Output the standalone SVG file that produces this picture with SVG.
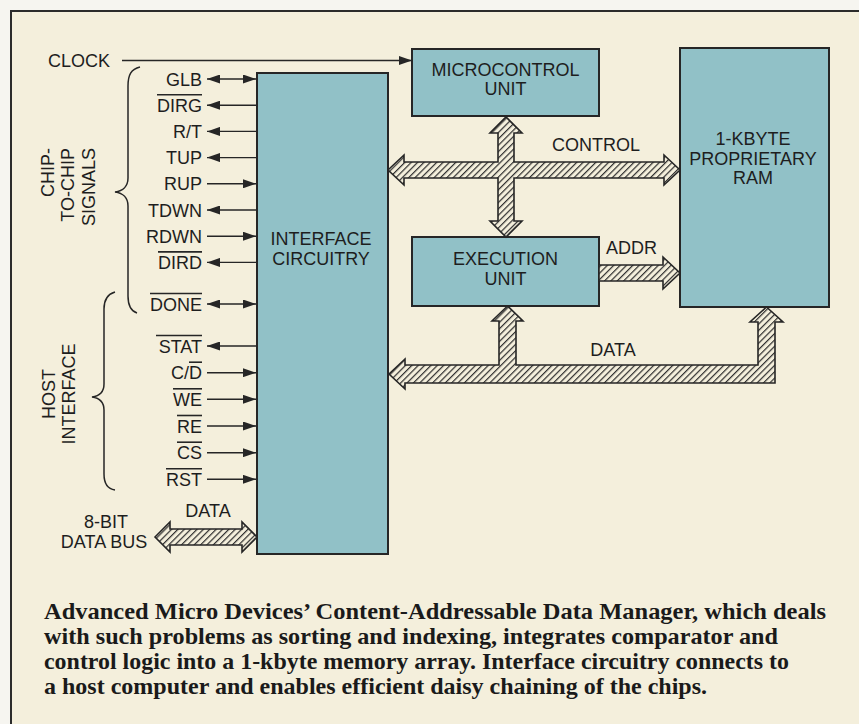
<svg xmlns="http://www.w3.org/2000/svg" width="859" height="724" viewBox="0 0 859 724">
  <defs>
    <style>
      .lbl { font-family: "Liberation Sans", Arial, Helvetica, sans-serif; font-size: 18px; fill: #1e1e1e; }
      .mid { text-anchor: middle; }
      .end { text-anchor: end; }
      .box { fill: #91c1c7; stroke: #262626; stroke-width: 2; }
      .sig { stroke: #262626; stroke-width: 1.4; fill: none; }
      .bar { stroke: #262626; stroke-width: 1.6; }
      .brace { stroke: #262626; stroke-width: 1.5; fill: none; }
      .bus { fill: url(#hatch); stroke: #262626; stroke-width: 1.6; stroke-linejoin: miter; }
      .cap { font-family: "Liberation Serif", "Times New Roman", Times, serif; font-weight: bold; font-size: 23px; fill: #1a1a1a; }
    </style>
    <pattern id="hatch" patternUnits="userSpaceOnUse" width="4.5" height="4.5" patternTransform="rotate(45)">
      <rect width="4.5" height="4.5" fill="#f4efdc"/>
      <line x1="0.6" y1="0" x2="0.6" y2="4.5" stroke="#2e2e2e" stroke-width="1.2"/>
    </pattern>
    <marker id="head" markerUnits="userSpaceOnUse" markerWidth="13" markerHeight="9" refX="13" refY="4.5" orient="auto-start-reverse">
      <path d="M0,0 L13,4.5 L0,9 Z" fill="#262626"/>
    </marker>
  </defs>

  <!-- page and frame -->
  <rect width="859" height="724" fill="#f6f5f0"/>
  <rect x="11" y="11" width="848" height="713" fill="#f4efdc"/>
  <path d="M11,724 L11,11 L859,11" fill="none" stroke="#2b2b2b" stroke-width="2"/>

  <!-- blocks -->
  <g id="interface">
    <rect class="box" x="257" y="73" width="131" height="481"/>
    <text class="lbl mid" x="321" y="245">INTERFACE</text>
    <text class="lbl mid" x="321" y="265">CIRCUITRY</text>
  </g>
  <g id="microcontrol">
    <rect class="box" x="412" y="49" width="187" height="67"/>
    <text class="lbl mid" x="505.5" y="76">MICROCONTROL</text>
    <text class="lbl mid" x="505.5" y="95">UNIT</text>
  </g>
  <g id="execution">
    <rect class="box" x="412" y="237" width="187" height="69"/>
    <text class="lbl mid" x="505.5" y="265">EXECUTION</text>
    <text class="lbl mid" x="505.5" y="285">UNIT</text>
  </g>
  <g id="ram">
    <rect class="box" x="680" y="48" width="149" height="259"/>
    <text class="lbl mid" x="753" y="145">1-KBYTE</text>
    <text class="lbl mid" x="753" y="165">PROPRIETARY</text>
    <text class="lbl mid" x="753" y="184">RAM</text>
  </g>

  <!-- connectors -->
  <g id="connectors">
    <!-- clock -->
    <line class="sig" x1="122" y1="60.5" x2="412" y2="60.5" marker-end="url(#head)"/>

    <!-- chip-to-chip signals -->
    <line class="sig" x1="207" y1="79" x2="256" y2="79" marker-start="url(#head)" marker-end="url(#head)"/>
    <line class="sig" x1="207" y1="105.2" x2="257" y2="105.2" marker-start="url(#head)"/>
    <line class="sig" x1="207" y1="131.4" x2="257" y2="131.4" marker-start="url(#head)"/>
    <line class="sig" x1="207" y1="157.6" x2="257" y2="157.6" marker-start="url(#head)"/>
    <line class="sig" x1="207" y1="183.8" x2="256" y2="183.8" marker-end="url(#head)"/>
    <line class="sig" x1="207" y1="210" x2="257" y2="210" marker-start="url(#head)"/>
    <line class="sig" x1="207" y1="236.2" x2="256" y2="236.2" marker-end="url(#head)"/>
    <line class="sig" x1="207" y1="262.4" x2="257" y2="262.4" marker-start="url(#head)"/>

    <!-- host interface signals -->
    <line class="sig" x1="207" y1="304" x2="256" y2="304" marker-start="url(#head)" marker-end="url(#head)"/>
    <line class="sig" x1="207" y1="346" x2="257" y2="346" marker-start="url(#head)"/>
    <line class="sig" x1="207" y1="372.7" x2="256" y2="372.7" marker-end="url(#head)"/>
    <line class="sig" x1="207" y1="399.3" x2="256" y2="399.3" marker-end="url(#head)"/>
    <line class="sig" x1="207" y1="426" x2="256" y2="426" marker-end="url(#head)"/>
    <line class="sig" x1="207" y1="452.7" x2="256" y2="452.7" marker-end="url(#head)"/>
    <line class="sig" x1="207" y1="479.3" x2="256" y2="479.3" marker-end="url(#head)"/>

    <!-- 8-bit data bus -->
    <path class="bus" d="M155,537 L170,522 L170,529 L242,529 L242,522 L257,537 L242,552 L242,545 L170,545 L170,552 Z"/>

    <!-- control bus crossing the microcontrol/execution link -->
    <path class="bus" d="M388,170 L404,155 L404,162 L498,162 L498,133 L490,133 L506,117 L522,133 L514,133 L514,162 L664,162 L664,155 L680,170 L664,185 L664,178 L514,178 L514,221 L522,221 L506,237 L490,221 L498,221 L498,178 L404,178 L404,185 Z"/>

    <!-- address bus -->
    <path class="bus" d="M599,265 L663,265 L663,257 L680,273 L663,289 L663,281 L599,281 Z"/>

    <!-- data bus -->
    <path class="bus" d="M389,374 L405,359 L405,365 L499,365 L499,321 L492,321 L507.5,306 L523,321 L516,321 L516,365 L758,365 L758,322 L750,322 L766.5,307 L783,322 L775,322 L775,383 L405,383 L405,389 Z"/>
  </g>

  <!-- bus labels -->
  <text class="lbl" x="552" y="151">CONTROL</text>
  <text class="lbl" x="606" y="254">ADDR</text>
  <text class="lbl mid" x="613" y="356">DATA</text>
  <text class="lbl mid" x="208" y="517">DATA</text>
  <text class="lbl mid" x="106" y="528">8-BIT</text>
  <text class="lbl mid" x="104" y="548">DATA BUS</text>
  <text class="lbl end" x="110" y="67">CLOCK</text>

  <!-- signal names -->
  <g id="signal-names">
    <text class="lbl end" x="202" y="85.5">GLB</text>
    <text class="lbl end" x="202" y="111.7">DIRG</text>
    <text class="lbl end" x="202" y="137.9">R/T</text>
    <text class="lbl end" x="202" y="164.1">TUP</text>
    <text class="lbl end" x="202" y="190.3">RUP</text>
    <text class="lbl end" x="202" y="216.5">TDWN</text>
    <text class="lbl end" x="202" y="242.7">RDWN</text>
    <text class="lbl end" x="202" y="268.9">DIRD</text>
    <text class="lbl end" x="202" y="310.5">DONE</text>
    <text class="lbl end" x="202" y="352.5">STAT</text>
    <text class="lbl end" x="202" y="379.2">C/D</text>
    <text class="lbl end" x="202" y="405.8">WE</text>
    <text class="lbl end" x="202" y="432.5">RE</text>
    <text class="lbl end" x="202" y="459.2">CS</text>
    <text class="lbl end" x="202" y="485.8">RST</text>
    <!-- active-low bars -->
    <line class="bar" x1="157" y1="94.7" x2="202" y2="94.7"/>
    <line class="bar" x1="158" y1="251.9" x2="202" y2="251.9"/>
    <line class="bar" x1="150" y1="293.5" x2="202" y2="293.5"/>
    <line class="bar" x1="156" y1="335.5" x2="202" y2="335.5"/>
    <line class="bar" x1="189" y1="362.2" x2="202" y2="362.2"/>
    <line class="bar" x1="173" y1="388.8" x2="202" y2="388.8"/>
    <line class="bar" x1="177" y1="415.5" x2="202" y2="415.5"/>
    <line class="bar" x1="177" y1="442.2" x2="202" y2="442.2"/>
    <line class="bar" x1="166" y1="468.8" x2="202" y2="468.8"/>
  </g>

  <!-- group braces -->
  <g id="chip-to-chip">
    <path class="brace" d="M140,67 C131,69 128,75 128,86 L128,178 C128,186 123,191 115,192 C123,193 128,198 128,206 L128,296 C128,306 131,311 137,313"/>
    <text class="lbl end" transform="translate(53.5,148) rotate(-90)">CHIP-</text>
    <text class="lbl end" transform="translate(74,148) rotate(-90)">TO-CHIP</text>
    <text class="lbl end" transform="translate(94.5,148) rotate(-90)">SIGNALS</text>
  </g>
  <g id="host-interface">
    <path class="brace" d="M115,292 C108,294 104,299 104,309 L104,384 C104,392 99,396 92,397 C99,398 104,402 104,410 L104,474 C104,484 108,489 115,490"/>
    <text class="lbl mid" transform="translate(55,394) rotate(-90)">HOST</text>
    <text class="lbl mid" transform="translate(74.5,394) rotate(-90)">INTERFACE</text>
  </g>

  <!-- caption -->
  <g id="caption">
    <text class="cap" x="44" y="619" textLength="782" lengthAdjust="spacingAndGlyphs">Advanced Micro Devices’ Content-Addressable Data Manager, which deals</text>
    <text class="cap" x="44" y="644" textLength="734" lengthAdjust="spacingAndGlyphs">with such problems as sorting and indexing, integrates comparator and</text>
    <text class="cap" x="44" y="669" textLength="745" lengthAdjust="spacingAndGlyphs">control logic into a 1-kbyte memory array. Interface circuitry connects to</text>
    <text class="cap" x="44" y="694" textLength="663" lengthAdjust="spacingAndGlyphs">a host computer and enables efficient daisy chaining of the chips.</text>
  </g>
</svg>
